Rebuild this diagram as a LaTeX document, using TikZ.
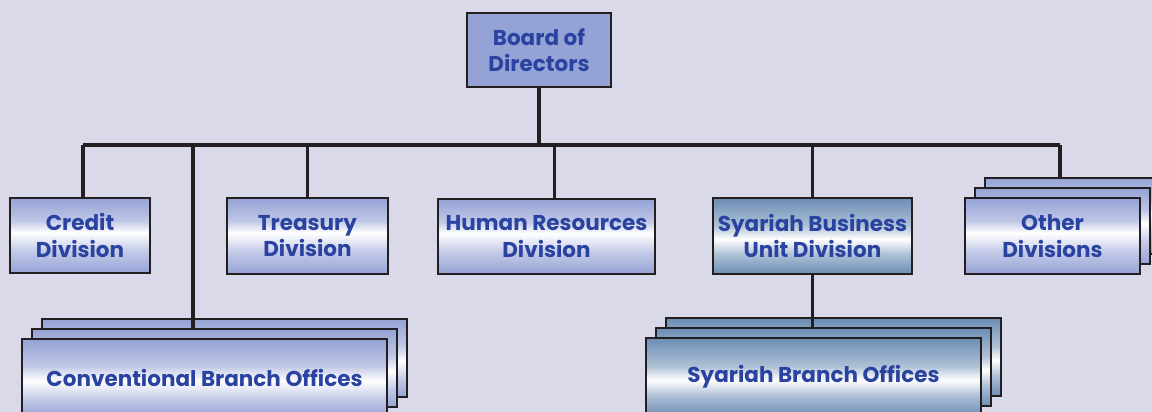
\documentclass[tikz,border=0pt]{standalone}
\usepackage{fontspec}
\setmainfont{Poppins}
\usepackage{xcolor}
\usepackage{tikz}
\usetikzlibrary{positioning,calc}
\definecolor{bgc}{HTML}{DAD9EA}
\definecolor{boxb}{HTML}{95A2D6}
\definecolor{boxs}{HTML}{6C8DB4}
\definecolor{txt}{HTML}{2A43A0}
\definecolor{ln}{HTML}{231F20}
\pgfdeclareverticalshading{divsh}{100bp}{color(0bp)=(boxb); color(25bp)=(boxb); color(40bp)=(boxb!55!white); color(52bp)=(white); color(60bp)=(boxb!60!white); color(75bp)=(boxb); color(100bp)=(boxb)}
\pgfdeclareverticalshading{brsh}{100bp}{color(0bp)=(boxb); color(25bp)=(boxb); color(37bp)=(boxb!55!white); color(48bp)=(white); color(58bp)=(boxb!60!white); color(75bp)=(boxb); color(100bp)=(boxb)}
\pgfdeclareverticalshading{syrsh}{100bp}{color(0bp)=(boxs); color(25bp)=(boxs); color(38bp)=(boxs!55!white); color(48bp)=(white); color(57bp)=(boxs!55!white); color(75bp)=(boxs); color(100bp)=(boxs)}
\tikzset{
  bx/.style={draw=ln,line width=2pt,inner sep=0pt,align=center,text=txt,font=\fontsize{21.5}{26.5}\selectfont\bfseries},
  dv/.style={bx,shading=divsh},
  br/.style={bx,shading=brsh},
  sy/.style={bx,shading=syrsh},
  bd/.style={bx,fill=boxb},
  ln/.style={draw=ln,line width=3.2pt},
}

\begin{document}
\begin{tikzpicture}[x=1pt,y=-1pt]
  \fill[bgc] (0,0) rectangle (1152,412);
  \useasboundingbox (0,0) rectangle (1152,412);
  \begin{scope}
  \clip (0,0) rectangle (1152,412);
  % top
  \node[bd,minimum width=144,minimum height=74] (board) at (539,50){Board of\\Directors};
  \coordinate (barL) at (83,145);
  \coordinate (barR) at (1060,145);
  \coordinate (convdrop) at (193,145);
  % divisions
  \node[dv,minimum width=140,minimum height=75] (credit) at (80,235.5){Credit\\Division};
  \node[dv,minimum width=161,minimum height=76] (treas) at (307.5,236){Treasury\\Division};
  \node[dv,minimum width=217,minimum height=75] (hr) at (546.5,236.5){Human Resources\\Division};
  \node[sy,minimum width=199,minimum height=76] (sbu) at (812.5,236){Syariah Business\\Unit Division};
  \node[dv,minimum width=175,minimum height=76] (oth3) at (1072.5,216){};
  \node[dv,minimum width=175,minimum height=76] (oth2) at (1062.5,226){};
  \node[dv,minimum width=175,minimum height=76] (oth) at (1052.5,236){Other\\Divisions};
  % branch offices
  \node[br,minimum width=365,minimum height=78] (conv3) at (224.5,358){};
  \node[br,minimum width=365,minimum height=78] (conv2) at (214.5,368){};
  \node[br,minimum width=365,minimum height=78] (conv) at (204.5,378){Conventional Branch Offices};
  \node[sy,minimum width=335,minimum height=78] (sbo3) at (833.5,357){};
  \node[sy,minimum width=335,minimum height=78] (sbo2) at (823.5,367){};
  \node[sy,minimum width=335,minimum height=78] (sbo) at (813.5,377){Syariah Branch Offices};
  % lines
  \draw[ln] (board.south) -- (board.south |- barL);
  \draw[ln] (barL) -- (barR);
  \draw[ln] (barL) -- (credit.north -| barL);
  \draw[ln] (treas.north |- barL) -- (treas.north);
  \draw[ln] ([xshift=8]hr.north |- barL) -- ([xshift=8]hr.north);
  \draw[ln] (sbu.north |- barL) -- (sbu.north);
  \draw[ln] (barR) -- (barR |- oth3.north);
  \draw[ln] (convdrop) -- (convdrop |- conv2.north);
  \draw[ln] (sbu.south) -- (sbu.south |- sbo2.north);
  \end{scope}
\end{tikzpicture}
\end{document}
